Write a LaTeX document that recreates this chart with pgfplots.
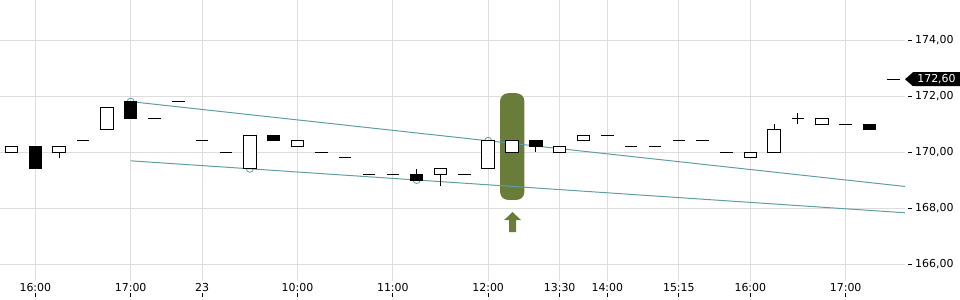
\documentclass[border=0pt]{standalone}
\usepackage{pgfplots}
\usepackage{pgfplotstable}
\pgfplotsset{compat=1.18}
\usepackage{fontspec}
\setmainfont{DejaVu Sans}
\definecolor{gridgray}{RGB}{221,221,221}
\definecolor{trend}{RGB}{95,158,162}
\definecolor{hl}{RGB}{106,124,58}

% candle bodies: x, base=min(open,close), up=close-open (if up), down=open-close (if down)
\pgfplotstableread{
x base up down
0 170.0 0.2 0
1 169.4 0 0.8
2 170.0 0.2 0
3 170.4 0 0
4 170.8 0.8 0
5 171.2 0 0.6
6 171.2 0 0
7 171.8 0 0
8 170.4 0 0
9 170.0 0 0
10 169.4 1.2 0
11 170.4 0 0.2
12 170.2 0.2 0
13 170.0 0 0
14 169.8 0 0
15 169.2 0 0
16 169.2 0 0
17 169.0 0 0.2
18 169.2 0.2 0
19 169.2 0 0
20 169.4 1.0 0
21 170.0 0.4 0
22 170.2 0 0.2
23 170.0 0.2 0
24 170.4 0.2 0
25 170.6 0 0
26 170.2 0 0
27 170.2 0 0
28 170.4 0 0
29 170.4 0 0
30 170.0 0 0
31 169.8 0.2 0
32 170.0 0.8 0
33 171.2 0 0
34 171.0 0.2 0
35 171.0 0 0
36 170.8 0 0.2
37 172.6 0 0
}\candles

\begin{document}
\begin{tikzpicture}
\pgfplotsset{
  chartbase/.style={
    at={(0,0)}, anchor=south west,
    scale only axis, width=905bp, height=281bp,
    xmin=-0.4826, xmax=37.49, ymin=165.393, ymax=175.43,
  }
}
\begin{axis}[
  chartbase,
  axis line style={draw=none},
  grid=major,
  grid style={color=gridgray, line width=1bp},
  xtick={1,5,8,12,16,20,23,25,28,31,35},
  xticklabels={16:00,17:00,23,10:00,11:00,12:00,13:30,14:00,15:15,16:00,17:00},
  ytick={166,168,170,172,174},
  yticklabels={{166,00},{168,00},{170,00},{172,00},{174,00}},
  xtick pos=bottom, ytick pos=right,
  tick align=outside,
  major tick length=4bp,
  tick style={black, line width=0.8bp},
  x tick style={yshift=-12bp},
  y tick style={xshift=3bp},
  ticklabel style={font=\fontsize{11}{13}\selectfont, inner sep=0pt},
  xticklabel style={anchor=north, yshift=2bp},
  yticklabel style={anchor=west, xshift=6bp},
]
% highlight
\addplot[draw=none, fill=hl, rounded corners=8bp] coordinates {(20.5,168.29) (21.52,168.29) (21.52,172.1) (20.5,172.1)} -- cycle;
\addplot[draw=none, fill=hl] coordinates {(21.02,167.857) (21.38,167.571) (21.17,167.571) (21.17,167.143) (20.88,167.143) (20.88,167.571) (20.67,167.571)} -- cycle;
% trend lines
\addplot[trend, line width=1bp] coordinates {(5,171.8) (37.49,168.77)};
\addplot[trend, line width=1bp] coordinates {(5,169.686) (37.49,167.83)};
\addplot[only marks, mark=o, mark size=3.5bp, trend, mark options={line width=0.8bp}] coordinates {(5,171.8) (10,169.4) (17,169.0) (20,170.4)};
% wicks
\addplot[black, line width=1bp] coordinates {(2,169.8) (2,170.0)};
\addplot[black, line width=1bp] coordinates {(17,169.2) (17,169.4)};
\addplot[black, line width=1bp] coordinates {(18,168.8) (18,169.2)};
\addplot[black, line width=1bp] coordinates {(22,170.0) (22,170.2)};
\addplot[black, line width=1bp] coordinates {(32,170.8) (32,171.0)};
\addplot[black, line width=1bp] coordinates {(33,171.0) (33,171.4)};
% open=close dashes (at every candle's lower body edge)
\addplot[only marks, mark=-, mark size=6.2bp, mark options={black, line width=1bp}] table[x=x, y=base] {\candles};
\coordinate (last) at (axis cs:37.49,172.6);
\end{axis}
\begin{axis}[
  chartbase,
  hide axis,
  ybar stacked,
  bar width=0.52,
]
\addplot[draw=none, fill=none] table[x=x, y=base] {\candles};
\addplot[draw=black, fill=white, line width=1bp] table[x=x, y=up] {\candles};
\addplot[draw=black, fill=black, line width=1bp] table[x=x, y=down] {\candles};
\end{axis}
\fill[black] (last) -- ++(8bp,7bp) -- ++(47bp,0) -- ++(0,-14bp) -- ++(-47bp,0) -- cycle;
\node[text=white, font=\fontsize{11}{13}\selectfont, inner sep=0pt] at ([xshift=31.5bp]last) {172,60};
\pgfresetboundingbox
\path[use as bounding box] (0,-19bp) rectangle (960bp,281bp);
\end{tikzpicture}
\end{document}
